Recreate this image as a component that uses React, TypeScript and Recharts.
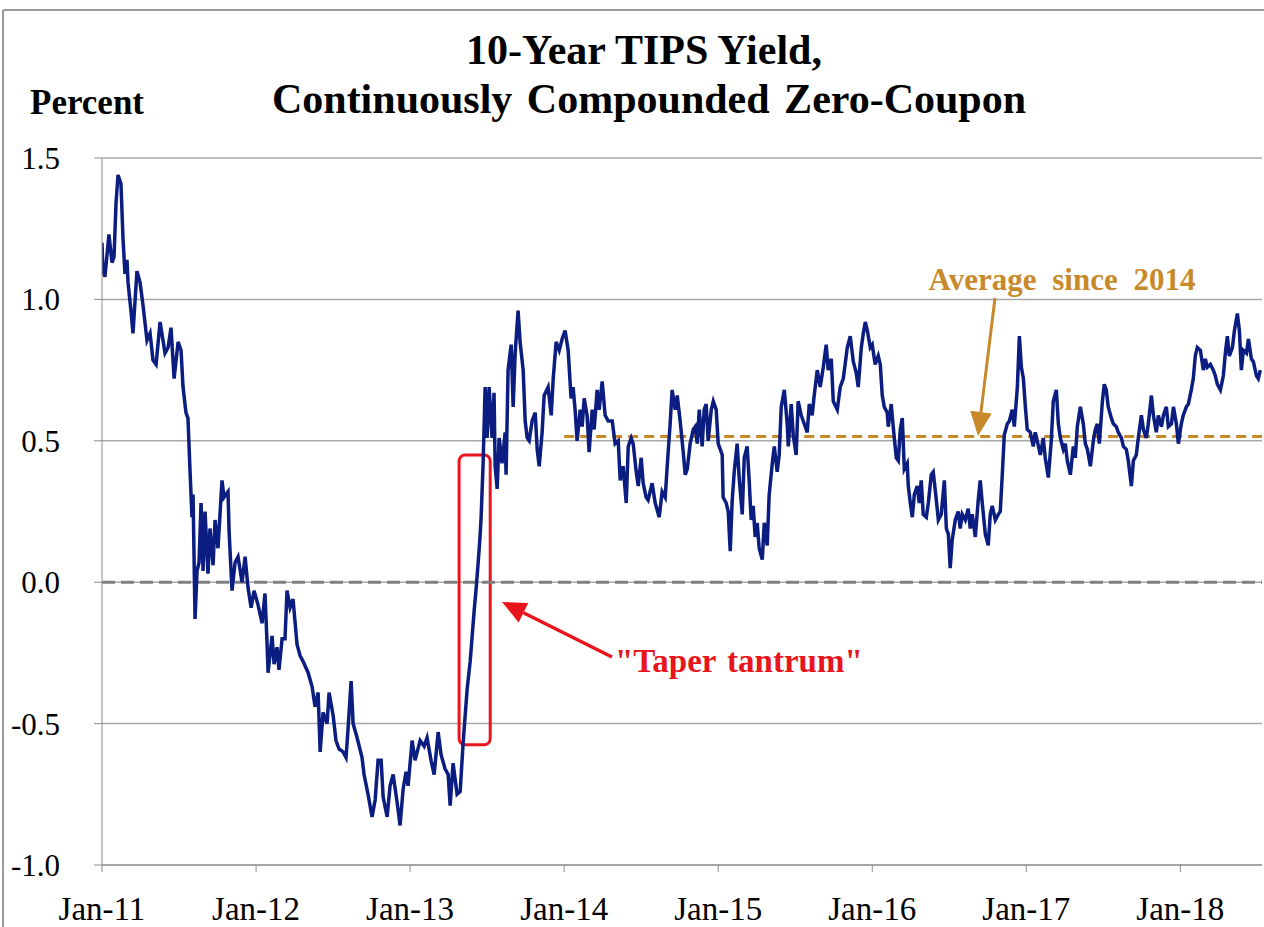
import {
  LineChart,
  Line,
  XAxis,
  YAxis,
  CartesianGrid,
  ReferenceLine,
  ReferenceArea,
} from 'recharts';

// 10-year TIPS yield: [fraction of year, percent]
const y2011 = [
  [0.0, 1.2], [0.006, 1.1], [0.019, 1.08], [0.045, 1.23], [0.065, 1.13], [0.078, 1.15], [0.091, 1.34],
  [0.104, 1.44], [0.123, 1.41], [0.136, 1.22], [0.149, 1.09], [0.162, 1.14], [0.169, 1.06], [0.188, 0.96],
  [0.201, 0.88], [0.227, 1.1], [0.247, 1.06], [0.266, 0.98], [0.292, 0.855], [0.312, 0.88], [0.331, 0.785],
  [0.351, 0.77], [0.377, 0.92], [0.409, 0.81], [0.429, 0.83], [0.448, 0.9], [0.468, 0.72], [0.494, 0.85],
  [0.513, 0.82], [0.526, 0.69], [0.545, 0.6], [0.558, 0.58], [0.571, 0.4], [0.584, 0.23], [0.591, 0.31],
  [0.604, -0.13], [0.617, 0.04], [0.63, 0.07], [0.643, 0.28], [0.656, 0.04], [0.669, 0.25], [0.688, 0.03],
  [0.701, 0.19], [0.721, 0.06], [0.734, 0.22], [0.753, 0.12], [0.779, 0.36], [0.792, 0.3], [0.818, 0.32],
  [0.825, 0.18], [0.844, -0.03], [0.864, 0.07], [0.883, 0.09], [0.909, 0.0], [0.929, 0.09], [0.948, -0.02],
  [0.968, -0.09], [0.987, -0.03],
];
const y2012 = [
  [0.013, -0.08], [0.039, -0.145], [0.058, -0.04], [0.071, -0.21], [0.078, -0.32], [0.104, -0.19],
  [0.117, -0.29], [0.136, -0.23], [0.149, -0.31], [0.169, -0.2], [0.188, -0.2], [0.201, -0.03],
  [0.221, -0.09], [0.24, -0.06], [0.266, -0.22], [0.286, -0.26], [0.305, -0.28], [0.338, -0.32],
  [0.364, -0.37], [0.383, -0.44], [0.403, -0.39], [0.416, -0.6], [0.435, -0.46], [0.461, -0.5],
  [0.474, -0.39], [0.5, -0.47], [0.519, -0.56], [0.539, -0.59], [0.565, -0.6], [0.584, -0.62],
  [0.597, -0.52], [0.617, -0.35], [0.63, -0.5], [0.656, -0.55], [0.688, -0.62], [0.701, -0.68],
  [0.727, -0.75], [0.753, -0.83], [0.773, -0.77], [0.792, -0.63], [0.812, -0.63], [0.825, -0.76],
  [0.851, -0.83], [0.87, -0.72], [0.89, -0.68], [0.916, -0.78], [0.935, -0.86], [0.955, -0.73],
  [0.974, -0.67], [0.987, -0.72],
];
const y2013 = [
  [0.013, -0.56], [0.032, -0.63], [0.065, -0.56], [0.091, -0.58], [0.11, -0.55], [0.136, -0.63],
  [0.156, -0.68], [0.182, -0.53], [0.201, -0.61], [0.227, -0.66], [0.247, -0.68], [0.26, -0.79],
  [0.279, -0.64], [0.305, -0.75], [0.325, -0.74], [0.344, -0.57], [0.37, -0.38], [0.39, -0.28],
  [0.416, -0.1], [0.429, -0.02], [0.442, 0.07], [0.455, 0.17], [0.461, 0.23], [0.474, 0.42],
  [0.487, 0.69], [0.5, 0.51], [0.513, 0.69], [0.532, 0.51], [0.545, 0.67], [0.552, 0.41], [0.565, 0.33],
  [0.578, 0.51], [0.597, 0.42], [0.617, 0.53], [0.623, 0.38], [0.636, 0.75], [0.656, 0.84], [0.669, 0.62],
  [0.682, 0.81], [0.701, 0.96], [0.714, 0.85], [0.734, 0.75], [0.747, 0.57], [0.76, 0.51], [0.773, 0.5],
  [0.792, 0.57], [0.812, 0.6], [0.825, 0.47], [0.838, 0.41], [0.857, 0.53], [0.87, 0.66], [0.896, 0.69],
  [0.916, 0.59], [0.929, 0.72], [0.948, 0.85], [0.968, 0.82], [0.987, 0.86],
];
const y2014 = [
  [0.006, 0.89], [0.026, 0.82], [0.045, 0.65], [0.058, 0.69], [0.071, 0.61], [0.084, 0.5], [0.104, 0.61],
  [0.117, 0.55], [0.13, 0.65], [0.149, 0.59], [0.162, 0.46], [0.182, 0.61], [0.195, 0.54], [0.214, 0.68],
  [0.227, 0.61], [0.247, 0.71], [0.266, 0.59], [0.286, 0.57], [0.312, 0.57], [0.331, 0.49], [0.351, 0.5],
  [0.364, 0.36], [0.383, 0.41], [0.403, 0.28], [0.416, 0.48], [0.435, 0.51], [0.448, 0.49], [0.468, 0.39],
  [0.481, 0.34], [0.5, 0.44], [0.513, 0.35], [0.532, 0.3], [0.545, 0.29], [0.571, 0.35], [0.591, 0.28],
  [0.617, 0.23], [0.636, 0.32], [0.656, 0.3], [0.669, 0.41], [0.688, 0.56], [0.701, 0.68], [0.721, 0.61],
  [0.734, 0.66], [0.753, 0.57], [0.773, 0.46], [0.786, 0.38], [0.799, 0.4], [0.818, 0.49], [0.838, 0.54],
  [0.851, 0.55], [0.864, 0.49], [0.877, 0.61], [0.896, 0.48], [0.909, 0.61], [0.922, 0.63], [0.935, 0.5],
  [0.955, 0.61], [0.968, 0.64], [0.987, 0.61],
];
const y2015 = [
  [0.0, 0.49], [0.026, 0.45], [0.032, 0.3], [0.052, 0.28], [0.065, 0.25], [0.078, 0.11], [0.091, 0.29],
  [0.104, 0.39], [0.123, 0.49], [0.136, 0.37], [0.156, 0.24], [0.169, 0.44], [0.188, 0.48], [0.201, 0.36],
  [0.214, 0.22], [0.227, 0.27], [0.24, 0.16], [0.253, 0.21], [0.266, 0.12], [0.286, 0.08], [0.299, 0.21],
  [0.318, 0.13], [0.331, 0.31], [0.351, 0.42], [0.364, 0.48], [0.383, 0.39], [0.396, 0.45], [0.409, 0.62],
  [0.429, 0.68], [0.448, 0.56], [0.455, 0.48], [0.474, 0.63], [0.487, 0.52], [0.506, 0.45], [0.519, 0.64],
  [0.539, 0.59], [0.552, 0.57], [0.578, 0.53], [0.591, 0.63], [0.61, 0.59], [0.623, 0.66], [0.643, 0.75],
  [0.662, 0.69], [0.682, 0.76], [0.701, 0.84], [0.714, 0.75], [0.734, 0.79], [0.747, 0.64], [0.773, 0.61],
  [0.792, 0.69], [0.812, 0.72], [0.838, 0.83], [0.857, 0.87], [0.877, 0.78], [0.896, 0.74], [0.909, 0.69],
  [0.929, 0.83], [0.942, 0.88], [0.955, 0.92], [0.968, 0.89], [0.987, 0.83],
];
const y2016 = [
  [0.0, 0.84], [0.019, 0.77], [0.039, 0.8], [0.052, 0.77], [0.065, 0.66], [0.078, 0.62], [0.097, 0.6],
  [0.104, 0.55], [0.123, 0.63], [0.136, 0.55], [0.156, 0.44], [0.169, 0.43], [0.182, 0.54], [0.195, 0.58],
  [0.208, 0.4], [0.227, 0.42], [0.234, 0.34], [0.247, 0.28], [0.26, 0.23], [0.273, 0.31], [0.292, 0.34],
  [0.305, 0.28], [0.318, 0.36], [0.331, 0.24], [0.351, 0.23], [0.364, 0.28], [0.383, 0.38], [0.396, 0.39],
  [0.416, 0.29], [0.429, 0.22], [0.448, 0.24], [0.468, 0.36], [0.481, 0.19], [0.494, 0.17], [0.506, 0.05],
  [0.519, 0.15], [0.539, 0.22], [0.558, 0.25], [0.571, 0.19], [0.584, 0.24], [0.604, 0.22], [0.623, 0.26],
  [0.636, 0.19], [0.649, 0.24], [0.669, 0.16], [0.688, 0.29], [0.701, 0.36], [0.714, 0.28], [0.734, 0.17],
  [0.753, 0.13], [0.766, 0.24], [0.779, 0.27], [0.799, 0.22], [0.818, 0.24], [0.831, 0.25], [0.844, 0.38],
  [0.857, 0.52], [0.877, 0.56], [0.89, 0.57], [0.909, 0.61], [0.922, 0.55], [0.942, 0.69], [0.955, 0.87],
  [0.968, 0.76], [0.981, 0.72], [0.994, 0.62],
];
const y2017 = [
  [0.006, 0.54], [0.026, 0.53], [0.045, 0.48], [0.058, 0.53], [0.071, 0.5], [0.091, 0.45], [0.11, 0.51],
  [0.123, 0.44], [0.143, 0.37], [0.162, 0.5], [0.175, 0.64], [0.195, 0.68], [0.208, 0.56], [0.221, 0.51],
  [0.24, 0.47], [0.253, 0.49], [0.266, 0.43], [0.286, 0.38], [0.305, 0.48], [0.318, 0.44], [0.331, 0.55],
  [0.351, 0.62], [0.37, 0.56], [0.383, 0.49], [0.396, 0.47], [0.416, 0.41], [0.435, 0.5], [0.448, 0.54],
  [0.461, 0.56], [0.474, 0.49], [0.494, 0.64], [0.506, 0.7], [0.519, 0.68], [0.532, 0.62], [0.552, 0.58],
  [0.565, 0.56], [0.584, 0.55], [0.597, 0.53], [0.617, 0.51], [0.63, 0.48], [0.649, 0.47], [0.662, 0.43],
  [0.682, 0.34], [0.695, 0.43], [0.714, 0.45], [0.727, 0.51], [0.747, 0.59], [0.76, 0.54], [0.779, 0.51],
  [0.792, 0.56], [0.812, 0.66], [0.825, 0.59], [0.844, 0.53], [0.857, 0.59], [0.877, 0.55], [0.89, 0.59],
  [0.909, 0.62], [0.922, 0.55], [0.942, 0.56], [0.955, 0.62], [0.974, 0.56], [0.987, 0.49],
];
const y2018 = [
  [0.006, 0.56], [0.019, 0.59], [0.039, 0.62], [0.052, 0.63], [0.071, 0.68], [0.084, 0.72], [0.097, 0.8],
  [0.11, 0.83], [0.13, 0.82], [0.149, 0.75], [0.162, 0.79], [0.175, 0.76], [0.195, 0.77], [0.214, 0.75],
  [0.227, 0.73], [0.24, 0.7], [0.26, 0.68], [0.279, 0.73], [0.292, 0.81], [0.305, 0.87], [0.318, 0.8],
  [0.338, 0.83], [0.351, 0.89], [0.37, 0.95], [0.383, 0.89], [0.396, 0.75], [0.409, 0.82], [0.429, 0.81],
  [0.442, 0.86], [0.461, 0.79], [0.474, 0.78], [0.494, 0.73], [0.506, 0.72], [0.519, 0.75],
];

const years = [2011, 2012, 2013, 2014, 2015, 2016, 2017, 2018];
const yearlyReadings = [y2011, y2012, y2013, y2014, y2015, y2016, y2017, y2018];
const yTicks = [-1, -0.5, 0, 0.5, 1, 1.5];
const AVERAGE_SINCE_2014 = 0.515;
const X_END = 2018.53;
// "taper tantrum" window (May-Jul 2013) and the range it spans
const TAPER = { from: 2013.318, to: 2013.52, low: -0.575, high: 0.45 };

const chartData = yearlyReadings.flatMap((rows, i) =>
  rows.map(([f, v]) => ({ t: years[i] + f, value: v }))
);

const SERIF = '"Times New Roman", "Liberation Serif", serif';
const NAVY = '#0b1d80';
const GOLD = '#c8892b';
const RED = '#e8161c';

function Arrow({ x1, y1, x2, y2, color, width, head }: any) {
  const ang = Math.atan2(y2 - y1, x2 - x1);
  const bx = x2 - head * Math.cos(ang);
  const by = y2 - head * Math.sin(ang);
  const w = head * 0.45;
  const px = -Math.sin(ang) * w;
  const py = Math.cos(ang) * w;
  return (
    <g>
      <line x1={x1} y1={y1} x2={bx} y2={by} stroke={color} strokeWidth={width} />
      <polygon points={`${x2},${y2} ${bx + px},${by + py} ${bx - px},${by - py}`} fill={color} />
    </g>
  );
}

// x tick: year label "Jan-YY" hanging below the axis
function YearTick({ x, y, payload }: any) {
  return (
    <text x={x} y={y + 46} textAnchor="middle" fontFamily={SERIF} fontSize={33} fill="#000">
      {`Jan-${String(payload.value).slice(2)}`}
    </text>
  );
}

export default function App() {
  return (
    <div style={{ position: 'absolute', left: 0, top: 0, width: 1264, height: 927, background: '#fff' }}>
      <LineChart
        width={1264}
        height={927}
        data={chartData}
        margin={{ top: 158, right: 2, bottom: 0, left: 0 }}
      >
        <CartesianGrid vertical={false} stroke="#a8a8a8" strokeWidth={1.5} />
        <XAxis
          dataKey="t"
          type="number"
          domain={[2011, X_END]}
          ticks={years}
          height={62}
          stroke="#8c8c8c"
          tickSize={7}
          tick={<YearTick />}
          allowDataOverflow
        />
        <YAxis
          type="number"
          domain={[-1, 1.5]}
          ticks={yTicks}
          tickFormatter={(v: number) => v.toFixed(1)}
          width={102}
          stroke="#8c8c8c"
          tickSize={8}
          tickMargin={34}
          tick={{ fill: '#000', fontSize: 31, fontFamily: SERIF }}
        />
        <ReferenceLine y={0} stroke="#7f7f7f" strokeWidth={3} strokeDasharray="13 6" />
        <ReferenceLine
          segment={[
            { x: 2014, y: AVERAGE_SINCE_2014 },
            { x: X_END, y: AVERAGE_SINCE_2014 },
          ]}
          stroke={GOLD}
          strokeWidth={3}
          strokeDasharray="10 6"
        />
        <Line
          type="linear"
          dataKey="value"
          stroke={NAVY}
          strokeWidth={3.5}
          dot={false}
          isAnimationActive={false}
        />
        <ReferenceArea
          x1={TAPER.from}
          x2={TAPER.to}
          y1={TAPER.low}
          y2={TAPER.high}
          fill="none"
          fillOpacity={0}
          stroke={RED}
          strokeWidth={3}
          radius={6}
        />
      </LineChart>

      <svg
        width={1264}
        height={927}
        style={{ position: 'absolute', left: 0, top: 0, pointerEvents: 'none' }}
      >
        {/* frame */}
        <line x1={3} y1={10} x2={1264} y2={10} stroke="#9a9a9a" strokeWidth={2} />
        <line x1={3} y1={10} x2={3} y2={927} stroke="#9a9a9a" strokeWidth={2} />

        <text x={644} y={64} textAnchor="middle" fontFamily={SERIF} fontWeight="bold" fontSize={42}>
          10-Year TIPS Yield,
        </text>
        <text x={649} y={113} textAnchor="middle" fontFamily={SERIF} fontWeight="bold" fontSize={42} wordSpacing={4}>
          Continuously Compounded Zero-Coupon
        </text>
        <text x={30} y={114} fontFamily={SERIF} fontWeight="bold" fontSize={35}>
          Percent
        </text>

        <text x={1062} y={290} textAnchor="middle" fontFamily={SERIF} fontWeight="bold" fontSize={31} fill={GOLD} wordSpacing={8}>
          Average since 2014
        </text>
        <Arrow x1={995} y1={298} x2={978} y2={436} color={GOLD} width={3} head={24} />

        <text x={615} y={672} fontFamily={SERIF} fontWeight="bold" fontSize={33} fill={RED} wordSpacing={3}>
          "Taper tantrum"
        </text>
        <Arrow x1={612} y1={657} x2={502} y2={602} color={RED} width={3.5} head={24} />
      </svg>
    </div>
  );
}
